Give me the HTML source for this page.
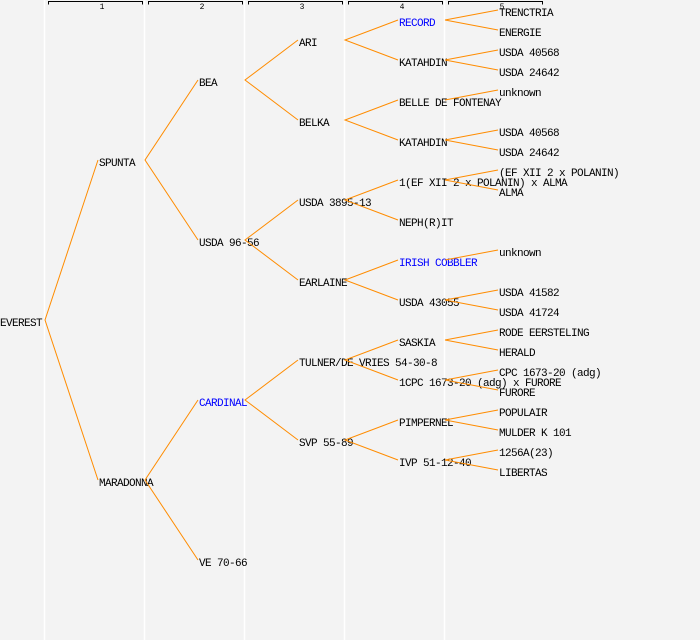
<!DOCTYPE html>
<html><head><meta charset="utf-8"><style>
html,body{margin:0;padding:0;background:#f3f3f3;}
svg{display:block;}
text{font-family:"Liberation Mono","DejaVu Sans Mono",monospace;font-size:11px;letter-spacing:-0.6px;fill:#000;}
.b{fill:#0000ff;}
.h{font-size:8px;letter-spacing:0;}
</style></head><body>
<svg width="700" height="640" xmlns="http://www.w3.org/2000/svg">
<rect width="700" height="640" fill="#f3f3f3"/>
<g stroke="#ffffff" stroke-width="1.5">
<line x1="44.5" y1="0" x2="44.5" y2="640"/>
<line x1="144.5" y1="0" x2="144.5" y2="640"/>
<line x1="244.5" y1="0" x2="244.5" y2="640"/>
<line x1="344.5" y1="0" x2="344.5" y2="640"/>
<line x1="444.5" y1="0" x2="444.5" y2="640"/>
</g>
<g stroke="#000" stroke-width="1" fill="none">
<path d="M48.5 4.5V1.5H142.5V4.5"/>
<path d="M148.5 4.5V1.5H242.5V4.5"/>
<path d="M248.5 4.5V1.5H342.5V4.5"/>
<path d="M348.5 4.5V1.5H442.5V4.5"/>
<path d="M448.5 4.5V1.5H542.5V4.5"/>
</g>
<g text-anchor="middle">
<text class="h" x="102" y="9">1</text>
<text class="h" x="202" y="9">2</text>
<text class="h" x="302" y="9">3</text>
<text class="h" x="402" y="9">4</text>
<text class="h" x="502" y="9">5</text>
</g>
<g>
<text x="0" y="326">EVEREST</text>
<text x="99" y="166">SPUNTA</text>
<text x="99" y="486">MARADONNA</text>
<text x="199" y="86">BEA</text>
<text x="199" y="246">USDA 96-56</text>
<text x="199" y="406" class="b">CARDINAL</text>
<text x="199" y="566">VE 70-66</text>
<text x="299" y="46">ARI</text>
<text x="299" y="126">BELKA</text>
<text x="299" y="206">USDA 3895-13</text>
<text x="299" y="286">EARLAINE</text>
<text x="299" y="366">TULNER/DE VRIES 54-30-8</text>
<text x="299" y="446">SVP 55-89</text>
<text x="399" y="26" class="b">RECORD</text>
<text x="399" y="66">KATAHDIN</text>
<text x="399" y="106">BELLE DE FONTENAY</text>
<text x="399" y="146">KATAHDIN</text>
<text x="399" y="186">1(EF XII 2 x POLANIN) x ALMA</text>
<text x="399" y="226">NEPH(R)IT</text>
<text x="399" y="266" class="b">IRISH COBBLER</text>
<text x="399" y="306">USDA 43055</text>
<text x="399" y="346">SASKIA</text>
<text x="399" y="386">1CPC 1673-20 (adg) x FURORE</text>
<text x="399" y="426">PIMPERNEL</text>
<text x="399" y="466">IVP 51-12-40</text>
<text x="499" y="16">TRENCTRIA</text>
<text x="499" y="36">ENERGIE</text>
<text x="499" y="56">USDA 40568</text>
<text x="499" y="76">USDA 24642</text>
<text x="499" y="96">unknown</text>
<text x="499" y="136">USDA 40568</text>
<text x="499" y="156">USDA 24642</text>
<text x="499" y="176">(EF XII 2 x POLANIN)</text>
<text x="499" y="196">ALMA</text>
<text x="499" y="256">unknown</text>
<text x="499" y="296">USDA 41582</text>
<text x="499" y="316">USDA 41724</text>
<text x="499" y="336">RODE EERSTELING</text>
<text x="499" y="356">HERALD</text>
<text x="499" y="376">CPC 1673-20 (adg)</text>
<text x="499" y="396">FURORE</text>
<text x="499" y="416">POPULAIR</text>
<text x="499" y="436">MULDER K 101</text>
<text x="499" y="456">1256A(23)</text>
<text x="499" y="476">LIBERTAS</text>
</g>
<g stroke="#ff8c00" stroke-width="1" fill="none">
<path d="M98 160L45 320L98 480"/>
<path d="M198 80L145 160L198 240"/>
<path d="M198 400L145 480L198 560"/>
<path d="M298 40L245 80L298 120"/>
<path d="M298 200L245 240L298 280"/>
<path d="M298 360L245 400L298 440"/>
<path d="M398 20L345 40L398 60"/>
<path d="M398 100L345 120L398 140"/>
<path d="M398 180L345 200L398 220"/>
<path d="M398 260L345 280L398 300"/>
<path d="M398 340L345 360L398 380"/>
<path d="M398 420L345 440L398 460"/>
<path d="M498 10L445 20L498 30"/>
<path d="M498 50L445 60L498 70"/>
<path d="M498 90L445 100"/>
<path d="M498 130L445 140L498 150"/>
<path d="M498 170L445 180L498 190"/>
<path d="M498 250L445 260"/>
<path d="M498 290L445 300L498 310"/>
<path d="M498 330L445 340L498 350"/>
<path d="M498 370L445 380L498 390"/>
<path d="M498 410L445 420L498 430"/>
<path d="M498 450L445 460L498 470"/>
</g>
</svg>
</body></html>
